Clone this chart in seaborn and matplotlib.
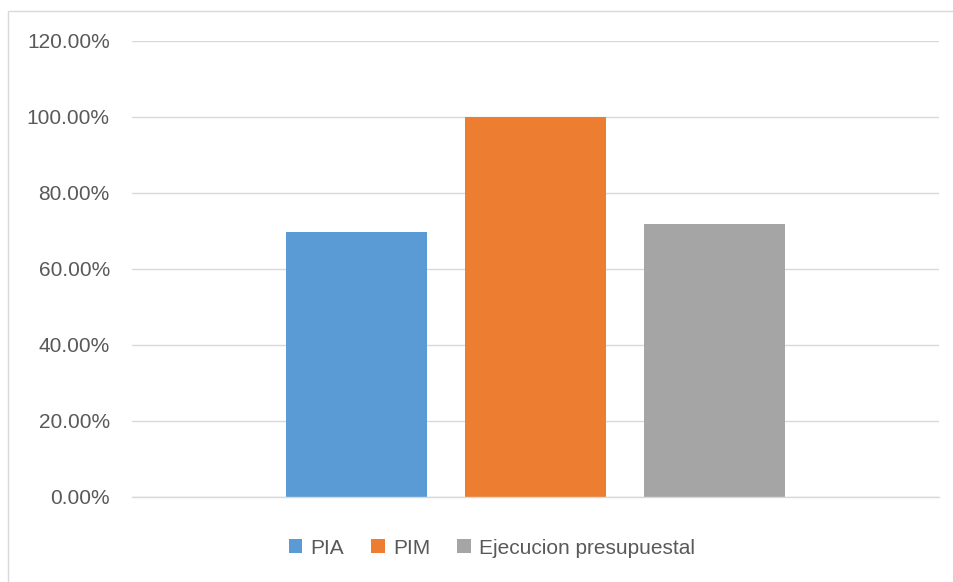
import matplotlib
matplotlib.use("Agg")
import matplotlib.pyplot as plt
from matplotlib.patches import Rectangle
from matplotlib.ticker import PercentFormatter, MultipleLocator
import seaborn as sns
import pandas as pd

# data
series = ["PIA", "PIM", "Ejecucion presupuestal"]
values = [0.697, 1.00, 0.718]
colors = ["#5B9BD5", "#ED7D31", "#A5A5A5"]

df = pd.DataFrame({"categoria": [""] * len(series), "serie": series, "valor": values})

sns.set_style("white")
plt.rcParams["font.family"] = ["Liberation Sans", "DejaVu Sans"]

text_color = "#595959"
grid_color = "#D9D9D9"

fig = plt.figure(figsize=(9.54, 5.82), dpi=100)
ax = fig.add_axes([132 / 954, 1 - 497 / 582, (939 - 132) / 954, (497 - 41) / 582])

sns.barplot(
    data=df, x="categoria", y="valor", hue="serie", palette=colors,
    saturation=1, width=0.665, gap=0.21, linewidth=0, ax=ax,
)

ax.set_ylim(0, 1.2)
ax.set_xlim(-0.5, 0.5)
ax.yaxis.set_major_locator(MultipleLocator(0.2))
ax.yaxis.set_major_formatter(PercentFormatter(xmax=1, decimals=2))
ax.grid(axis="y", color=grid_color, linewidth=1.0)
ax.set_axisbelow(True)
ax.set_xlabel("")
ax.set_ylabel("")
ax.set_xticks([])
for side in ["top", "right", "left"]:
    ax.spines[side].set_visible(False)
ax.spines["bottom"].set_color(grid_color)
ax.spines["bottom"].set_linewidth(1.0)
ax.tick_params(axis="y", length=0, pad=16, labelsize=15, labelcolor=text_color)

# legend below the plot
handles, labels = ax.get_legend_handles_labels()
ax.get_legend().remove()
fig.legend(
    handles, labels, loc="center", bbox_to_anchor=(492 / 954, 1 - 548 / 582),
    ncol=3, frameon=False, fontsize=15, labelcolor=text_color,
    handlelength=0.65, handleheight=0.65, handletextpad=0.4, columnspacing=1.3,
)

# chart border (only left and top visible in the reference)
fig.patches.append(Rectangle((8 / 954, -0.1), 1.5, 1 - 11 / 582 + 0.1,
                             transform=fig.transFigure, fill=False,
                             edgecolor=grid_color, linewidth=1.0))

fig.savefig("out.png", dpi=100)
